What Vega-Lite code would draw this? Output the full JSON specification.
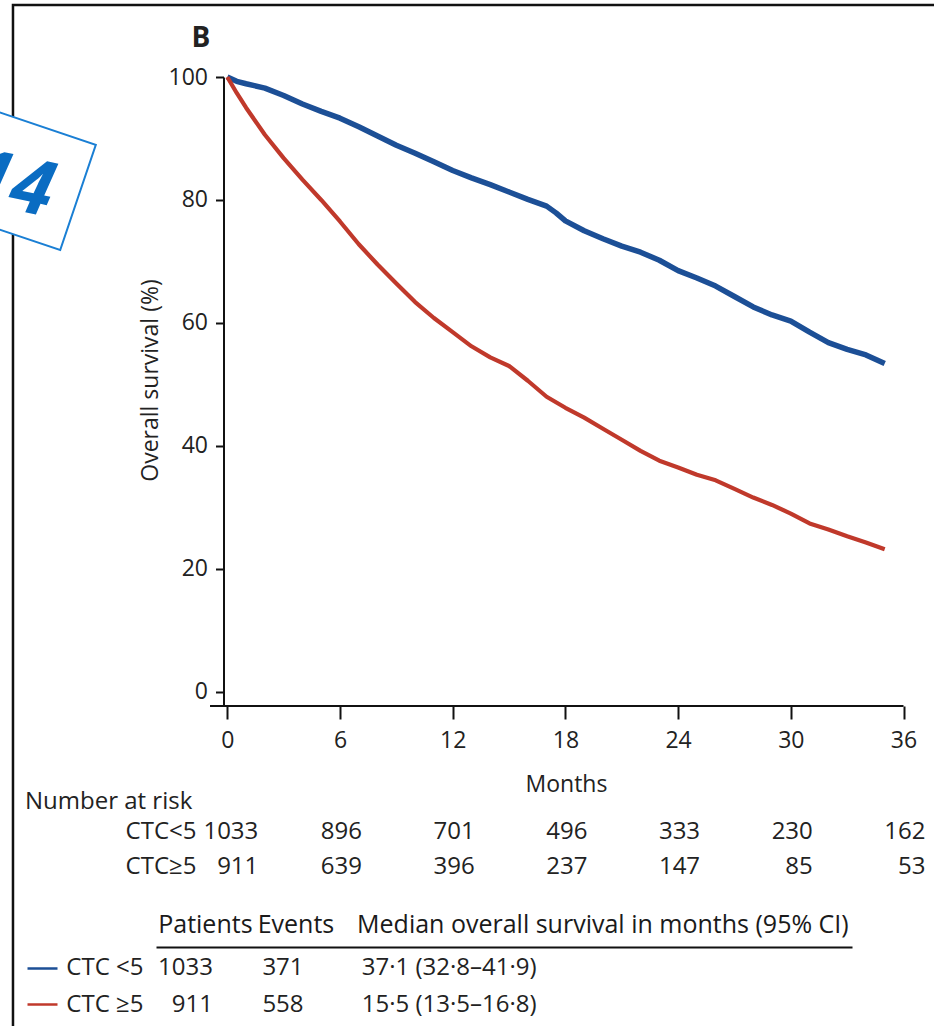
{
  "$schema": "https://vega.github.io/schema/vega-lite/v6.json",
  "autosize": {"type": "none"},
  "padding": {"left": 156, "top": 77, "right": 778, "bottom": 949},
  "background": "white",
  "config": {"font": "Open Sans", "view": {"stroke": null}, "axis": {"grid": false, "labelFont": "Open Sans", "titleFont": "Open Sans"}, "title": {"font": "Open Sans"}},
  "bounds": "flush",
  "spacing": 62,
  "resolve": {"scale": {"x": "independent", "y": "independent"}},
  "datasets": {
    "km": [
      {"g": "CTC<5", "t": 0, "s": 100}, {"g": "CTC<5", "t": 0.5, "s": 99.3}, {"g": "CTC<5", "t": 1, "s": 98.9}, {"g": "CTC<5", "t": 2, "s": 98.2},
      {"g": "CTC<5", "t": 3, "s": 97.0}, {"g": "CTC<5", "t": 4, "s": 95.6}, {"g": "CTC<5", "t": 5, "s": 94.4}, {"g": "CTC<5", "t": 6, "s": 93.3},
      {"g": "CTC<5", "t": 7, "s": 91.9}, {"g": "CTC<5", "t": 8, "s": 90.4}, {"g": "CTC<5", "t": 9, "s": 88.9}, {"g": "CTC<5", "t": 10, "s": 87.6},
      {"g": "CTC<5", "t": 11, "s": 86.2}, {"g": "CTC<5", "t": 12, "s": 84.8}, {"g": "CTC<5", "t": 13, "s": 83.6}, {"g": "CTC<5", "t": 14, "s": 82.5},
      {"g": "CTC<5", "t": 15, "s": 81.3}, {"g": "CTC<5", "t": 16, "s": 80.1}, {"g": "CTC<5", "t": 17, "s": 79.0}, {"g": "CTC<5", "t": 17.5, "s": 77.9},
      {"g": "CTC<5", "t": 18, "s": 76.6}, {"g": "CTC<5", "t": 19, "s": 75.0}, {"g": "CTC<5", "t": 20, "s": 73.7}, {"g": "CTC<5", "t": 21, "s": 72.5},
      {"g": "CTC<5", "t": 22, "s": 71.5}, {"g": "CTC<5", "t": 23, "s": 70.2}, {"g": "CTC<5", "t": 24, "s": 68.5}, {"g": "CTC<5", "t": 25, "s": 67.3},
      {"g": "CTC<5", "t": 26, "s": 66.0}, {"g": "CTC<5", "t": 27, "s": 64.3}, {"g": "CTC<5", "t": 28, "s": 62.6}, {"g": "CTC<5", "t": 29, "s": 61.3},
      {"g": "CTC<5", "t": 30, "s": 60.3}, {"g": "CTC<5", "t": 31, "s": 58.5}, {"g": "CTC<5", "t": 32, "s": 56.8}, {"g": "CTC<5", "t": 33, "s": 55.7},
      {"g": "CTC<5", "t": 34, "s": 54.8}, {"g": "CTC<5", "t": 35, "s": 53.4},
      {"g": "CTC≥5", "t": 0, "s": 100}, {"g": "CTC≥5", "t": 0.5, "s": 97.4}, {"g": "CTC≥5", "t": 1, "s": 95.0}, {"g": "CTC≥5", "t": 2, "s": 90.6},
      {"g": "CTC≥5", "t": 3, "s": 86.8}, {"g": "CTC≥5", "t": 4, "s": 83.3}, {"g": "CTC≥5", "t": 5, "s": 80.0}, {"g": "CTC≥5", "t": 6, "s": 76.5},
      {"g": "CTC≥5", "t": 7, "s": 72.8}, {"g": "CTC≥5", "t": 8, "s": 69.5}, {"g": "CTC≥5", "t": 9, "s": 66.4}, {"g": "CTC≥5", "t": 10, "s": 63.4},
      {"g": "CTC≥5", "t": 11, "s": 60.8}, {"g": "CTC≥5", "t": 12, "s": 58.5}, {"g": "CTC≥5", "t": 13, "s": 56.2}, {"g": "CTC≥5", "t": 14, "s": 54.4},
      {"g": "CTC≥5", "t": 15, "s": 53.0}, {"g": "CTC≥5", "t": 16, "s": 50.6}, {"g": "CTC≥5", "t": 17, "s": 48.0}, {"g": "CTC≥5", "t": 18, "s": 46.2},
      {"g": "CTC≥5", "t": 19, "s": 44.6}, {"g": "CTC≥5", "t": 20, "s": 42.8}, {"g": "CTC≥5", "t": 21, "s": 41.0}, {"g": "CTC≥5", "t": 22, "s": 39.2},
      {"g": "CTC≥5", "t": 23, "s": 37.6}, {"g": "CTC≥5", "t": 24, "s": 36.5}, {"g": "CTC≥5", "t": 25, "s": 35.3}, {"g": "CTC≥5", "t": 26, "s": 34.4},
      {"g": "CTC≥5", "t": 27, "s": 33.0}, {"g": "CTC≥5", "t": 28, "s": 31.6}, {"g": "CTC≥5", "t": 29, "s": 30.4}, {"g": "CTC≥5", "t": 30, "s": 29.0},
      {"g": "CTC≥5", "t": 31, "s": 27.4}, {"g": "CTC≥5", "t": 32, "s": 26.4}, {"g": "CTC≥5", "t": 33, "s": 25.3}, {"g": "CTC≥5", "t": 34, "s": 24.3},
      {"g": "CTC≥5", "t": 35, "s": 23.2}
    ],
    "risk": [
      {"g": "CTC<5", "t": 0, "n": "1033"}, {"g": "CTC<5", "t": 6, "n": "896"}, {"g": "CTC<5", "t": 12, "n": "701"}, {"g": "CTC<5", "t": 18, "n": "496"},
      {"g": "CTC<5", "t": 24, "n": "333"}, {"g": "CTC<5", "t": 30, "n": "230"}, {"g": "CTC<5", "t": 36, "n": "162"},
      {"g": "CTC≥5", "t": 0, "n": "911"}, {"g": "CTC≥5", "t": 6, "n": "639"}, {"g": "CTC≥5", "t": 12, "n": "396"}, {"g": "CTC≥5", "t": 18, "n": "237"},
      {"g": "CTC≥5", "t": 24, "n": "147"}, {"g": "CTC≥5", "t": 30, "n": "85"}, {"g": "CTC≥5", "t": 36, "n": "53"}
    ],
    "tbl": [
      {"g": "CTC <5", "col": "Patients", "v": "1033"},
      {"g": "CTC <5", "col": "Events", "v": "371"},
      {"g": "CTC <5", "col": "Median overall survival in months (95% CI)", "v": "37·1 (32·8–41·9)"},
      {"g": "CTC ≥5", "col": "Patients", "v": "911"},
      {"g": "CTC ≥5", "col": "Events", "v": "558"},
      {"g": "CTC ≥5", "col": "Median overall survival in months (95% CI)", "v": "15·5 (13·5–16·8)"}
    ]
  },
  "vconcat": [
    {
      "width": 747.5,
      "height": 629,
      "resolve": {"axis": {"x": "independent", "y": "independent"}},
      "layer": [
        {
          "data": {"name": "km"},
          "transform": [{"filter": "datum.g === 'CTC<5'"}],
          "mark": {"type": "line", "color": "#1c4f96", "strokeWidth": 5.5, "strokeJoin": "round", "interpolate": "linear"},
          "encoding": {
            "x": {"field": "t", "type": "quantitative", "scale": {"domain": [-3.796, 36], "nice": false, "zero": false},
              "axis": {"orient": "bottom", "values": [0, 6, 12, 18, 24, 30, 36], "title": "Months", "domain": false, "ticks": true, "tickSize": 13, "tickWidth": 2, "tickColor": "#111111",
                "labelFontSize": 23, "labelColor": "#222222", "labelPadding": 21, "labelBaseline": "middle", "labelFlush": false,
                "titleFontSize": 23, "titleFontWeight": "normal", "titleColor": "#222222", "titleBaseline": "alphabetic", "titlePadding": 39, "titleX": 410}},
            "y": {"field": "s", "type": "quantitative", "scale": {"domain": [-2.3, 100], "nice": false, "zero": false},
              "axis": {"orient": "left", "values": [0, 20, 40, 60, 80, 100], "title": "Overall survival (%)", "offset": -67.5, "domain": true, "domainColor": "#111111", "domainWidth": 2,
                "tickSize": 8, "tickWidth": 2, "tickColor": "#111111", "labelFontSize": 23, "labelColor": "#222222", "labelPadding": 8, "labelFlush": false,
                "titleFontSize": 23, "titleFontWeight": "normal", "titleColor": "#222222", "titlePadding": 6, "titleY": 303}}
          }
        },
        {
          "data": {"name": "km"},
          "transform": [{"filter": "datum.g === 'CTC≥5'"}],
          "mark": {"type": "line", "color": "#c0392b", "strokeWidth": 4.2, "strokeJoin": "round", "interpolate": "linear"},
          "encoding": {
            "x": {"field": "t", "type": "quantitative", "scale": {"domain": [-3.796, 36], "nice": false, "zero": false}, "axis": null},
            "y": {"field": "s", "type": "quantitative", "scale": {"domain": [-2.3, 100], "nice": false, "zero": false}, "axis": null}
          }
        },
        {
          "data": {"values": [{}]},
          "mark": {"type": "rule", "color": "#111111", "strokeWidth": 2},
          "encoding": {
            "x": {"datum": -0.92, "type": "quantitative", "scale": {"domain": [-3.796, 36], "nice": false, "zero": false}, "axis": null},
            "x2": {"datum": 36},
            "y": {"datum": -2.3, "type": "quantitative", "scale": {"domain": [-2.3, 100], "nice": false, "zero": false}, "axis": null}
          }
        },
        {
          "data": {"values": [{}]},
          "mark": {"type": "rect", "filled": false, "stroke": "#111111", "strokeWidth": 2.5},
          "encoding": {
            "x": {"datum": -11.41, "type": "quantitative", "scale": {"domain": [-3.796, 36], "nice": false, "zero": false}, "axis": null},
            "x2": {"datum": 38.5},
            "y": {"datum": 111.71, "type": "quantitative", "scale": {"domain": [-2.3, 100], "nice": false, "zero": false}, "axis": null},
            "y2": {"datum": -60}
          }
        },
        {
          "data": {"values": [{}]},
          "mark": {"type": "point", "shape": "M-1,-0.888L1,-0.888L1,0.888L-1,0.888Z", "size": 15625, "angle": 18.7, "filled": true, "fill": "#ffffff", "stroke": "#1a7fd4", "strokeWidth": 2, "opacity": 1},
          "encoding": {
            "x": {"datum": -11.1, "type": "quantitative", "scale": {"domain": [-3.796, 36], "nice": false, "zero": false}, "axis": null},
            "y": {"datum": 83.66, "type": "quantitative", "scale": {"domain": [-2.3, 100], "nice": false, "zero": false}, "axis": null}
          }
        },
        {
          "data": {"values": [{"label": "14"}]},
          "mark": {"type": "text", "fontSize": 76, "fontWeight": "bold", "fontStyle": "italic", "color": "#0a6cc2", "align": "right", "baseline": "alphabetic", "angle": 12},
          "encoding": {
            "text": {"field": "label"},
            "x": {"datum": -9.55, "type": "quantitative", "scale": {"domain": [-3.796, 36], "nice": false, "zero": false}, "axis": null},
            "y": {"datum": 77.23, "type": "quantitative", "scale": {"domain": [-2.3, 100], "nice": false, "zero": false}, "axis": null}
          }
        },
        {
          "data": {"values": [{"label": "B"}]},
          "mark": {"type": "text", "fontSize": 28, "fontWeight": "bold", "color": "#222222", "align": "center", "baseline": "alphabetic"},
          "encoding": {
            "text": {"field": "label"},
            "x": {"datum": -1.4, "type": "quantitative", "scale": {"domain": [-3.796, 36], "nice": false, "zero": false}, "axis": null},
            "y": {"datum": 104.88, "type": "quantitative", "scale": {"domain": [-2.3, 100], "nice": false, "zero": false}, "axis": null}
          }
        }
      ]
    },
    {
      "width": 747.5,
      "height": 117,
      "title": {"text": "Number at risk", "anchor": "start", "frame": "group", "dx": -131, "fontSize": 24, "fontWeight": "normal", "color": "#222222", "baseline": "alphabetic", "offset": -65},
      "data": {"name": "risk"},
      "resolve": {"axis": {"y": "independent"}},
      "layer": [
        {
          "transform": [{"filter": "datum.t > 0"}],
          "mark": {"type": "text", "align": "right", "dx": 22, "fontSize": 24, "color": "#222222", "baseline": "middle"},
          "encoding": {
            "x": {"field": "t", "type": "quantitative", "scale": {"domain": [-3.796, 36], "nice": false, "zero": false}, "axis": null},
            "y": {"field": "g", "type": "nominal", "scale": {"type": "band", "domain": ["CTC<5", "CTC≥5"], "paddingInner": 0, "paddingOuter": 0.671, "align": 1},
              "axis": {"title": null, "orient": "left", "offset": -67.5, "ticks": false, "tickSize": 0, "domain": false, "labelFontSize": 24, "labelPadding": 27.5, "labelColor": "#222222", "labelAlign": "right", "labelBaseline": "middle"}},
            "text": {"field": "n", "type": "nominal"}
          }
        },
        {
          "transform": [{"filter": "datum.t === 0"}],
          "mark": {"type": "text", "align": "right", "dx": 31, "fontSize": 24, "color": "#222222", "baseline": "middle"},
          "encoding": {
            "x": {"field": "t", "type": "quantitative", "scale": {"domain": [-3.796, 36], "nice": false, "zero": false}, "axis": null},
            "y": {"field": "g", "type": "nominal", "scale": {"type": "band", "domain": ["CTC<5", "CTC≥5"], "paddingInner": 0, "paddingOuter": 0.671, "align": 1}, "axis": null},
            "text": {"field": "n", "type": "nominal"}
          }
        }
      ]
    },
    {
      "width": 696,
      "height": 79,
      "data": {"name": "tbl"},
      "resolve": {"axis": {"y": "independent"}},
      "layer": [
        {
          "transform": [{"filter": "datum.col !== 'Patients'"}],
          "mark": {"type": "text", "align": "left", "baseline": "middle", "fontSize": 24, "color": "#222222"},
          "encoding": {
            "x": {"field": "col", "type": "nominal", "bandPosition": 0.07,
              "scale": {"type": "band", "domain": ["Patients", "Events", "Median overall survival in months (95% CI)", " ", "  ", "   ", "    "], "paddingInner": 0, "paddingOuter": 0, "align": 0},
              "axis": {"orient": "top", "title": null, "ticks": false, "domain": true, "domainColor": "#111111", "domainWidth": 2, "labelAlign": "left", "labelBaseline": "alphabetic", "labelPadding": 15, "labelFontSize": 25, "labelColor": "#1a1a1a", "labelLimit": 1000, "labelOverlap": false, "labelAngle": 0, "labelOffset": -47.5}},
            "y": {"field": "g", "type": "nominal", "scale": {"type": "band", "domain": ["CTC <5", "CTC ≥5"], "paddingInner": 0, "paddingOuter": 0.0676, "align": 0.5},
              "axis": {"orient": "left", "title": null, "ticks": false, "domain": false, "labelPadding": 13, "labelFontSize": 24, "labelColor": "#222222", "labelBaseline": "middle"}},
            "text": {"field": "v", "type": "nominal"}
          }
        },
        {
          "transform": [{"filter": "datum.col === 'Patients'"}],
          "mark": {"type": "text", "align": "right", "baseline": "middle", "fontSize": 24, "color": "#222222"},
          "encoding": {
            "x": {"field": "col", "type": "nominal", "bandPosition": 0.573,
              "scale": {"type": "band", "domain": ["Patients", "Events", "Median overall survival in months (95% CI)", " ", "  ", "   ", "    "], "paddingInner": 0, "paddingOuter": 0, "align": 0},
              "axis": {"orient": "top", "title": null, "ticks": false, "domain": true, "domainColor": "#111111", "domainWidth": 2, "labelAlign": "left", "labelBaseline": "alphabetic", "labelPadding": 15, "labelFontSize": 25, "labelColor": "#1a1a1a", "labelLimit": 1000, "labelOverlap": false, "labelAngle": 0, "labelOffset": -47.5}},
            "y": {"field": "g", "type": "nominal", "scale": {"type": "band", "domain": ["CTC <5", "CTC ≥5"], "paddingInner": 0, "paddingOuter": 0.0676, "align": 0.5},
              "axis": {"orient": "left", "title": null, "labels": false, "domain": false, "ticks": true, "tickSize": 30, "tickWidth": 2.5, "offset": 99,
                "tickColor": {"condition": {"test": "datum.value === 'CTC <5'", "value": "#1c4f96"}, "value": "#c0392b"}}},
            "text": {"field": "v", "type": "nominal"}
          }
        }
      ]
    }
  ]
}
